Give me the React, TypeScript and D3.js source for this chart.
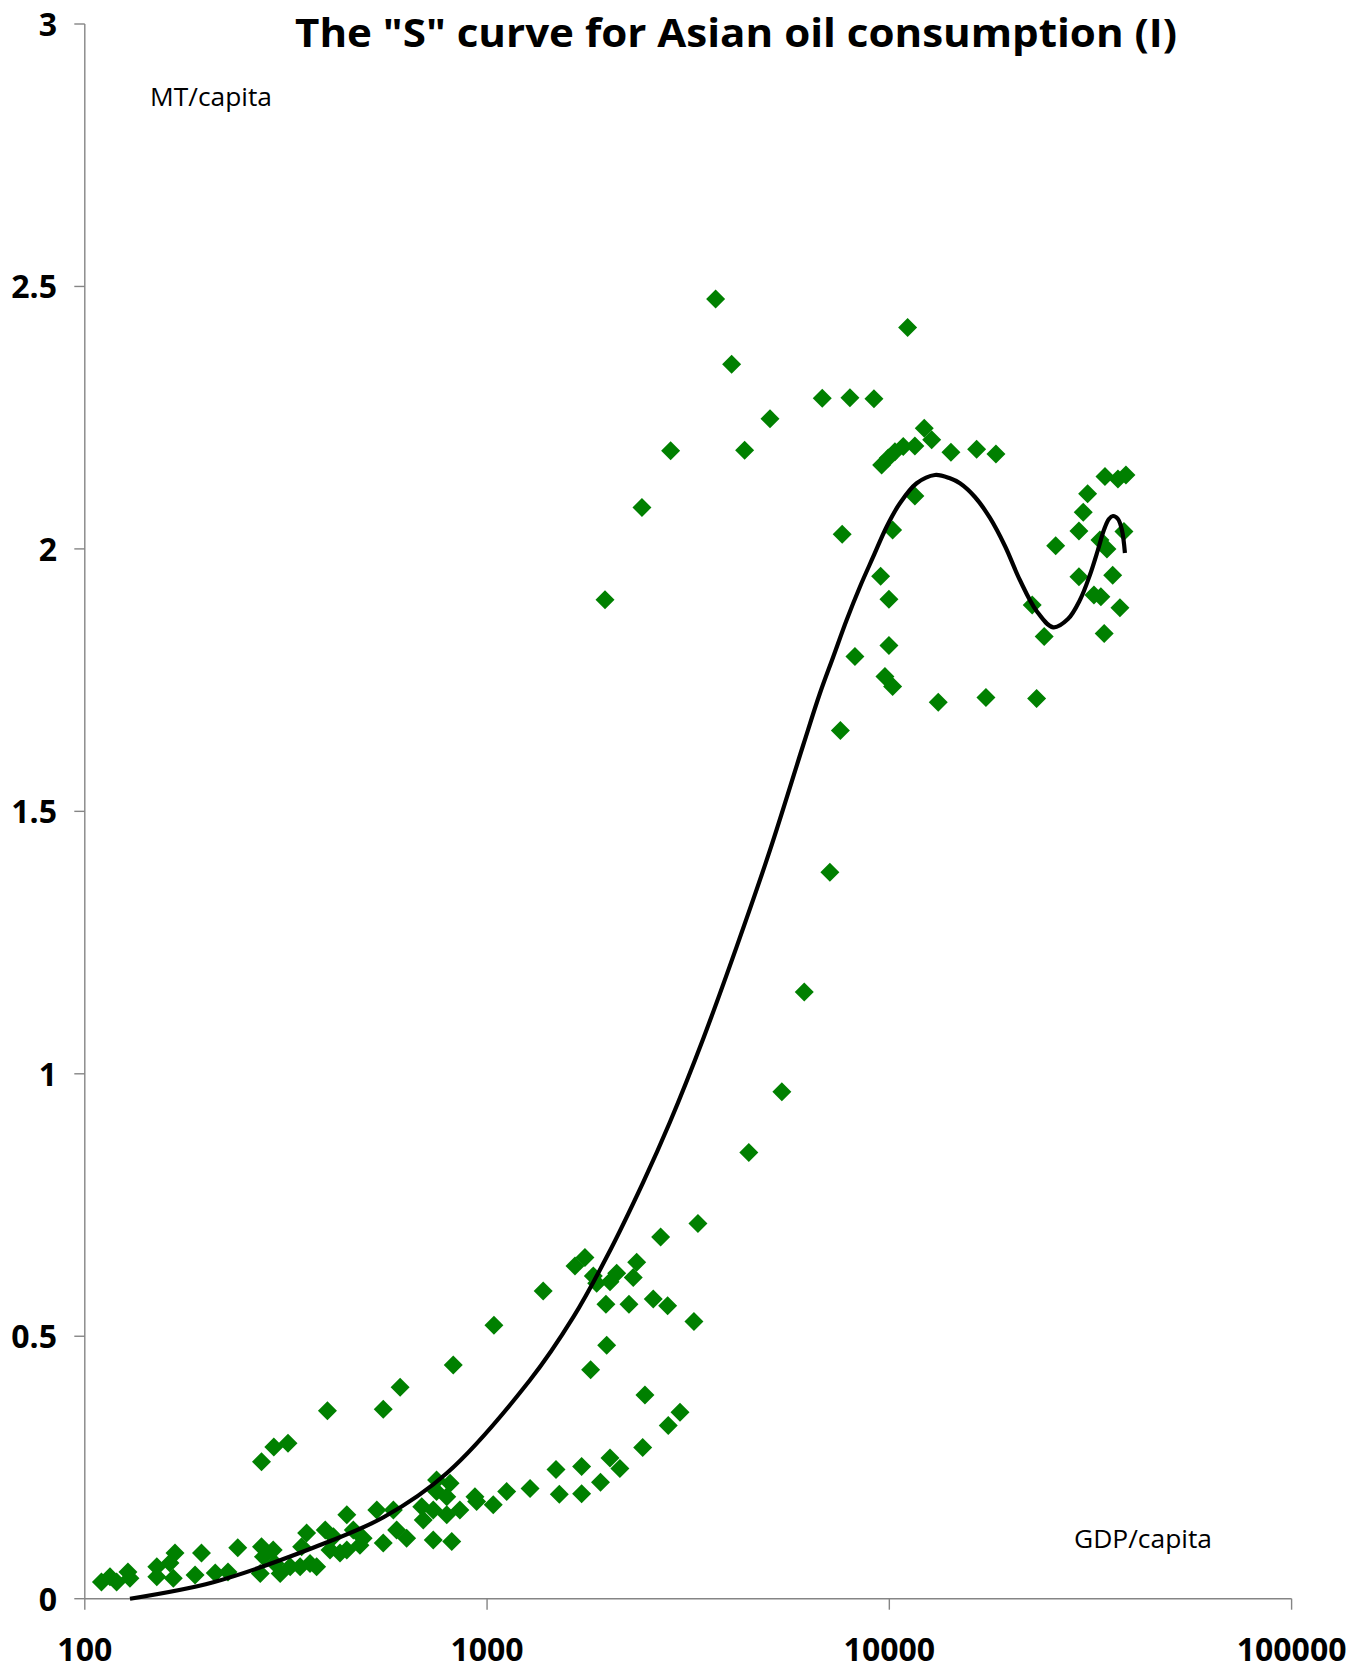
import React from "react";
import * as d3 from "d3";

// GDP per capita (USD) and oil consumption (MT per capita)
const gdpPerCapita = [
  110, 115.5, 120, 128, 129.5, 151, 151, 167.6, 162.8, 166, 195, 188, 211, 227, 240,
  275, 295, 320, 275, 278, 273, 294, 297, 306, 324, 343, 356, 346, 363, 377,
  396, 415, 407, 431, 448, 465, 448, 483, 492, 532, 552, 585, 596, 631, 694,
  688, 749, 809, 794, 735, 817, 735, 794, 856, 942, 1036,
  401, 552, 608, 824, 1040, 1379, 1654, 1751, 1837, 1873, 2100, 2021, 2355, 2309,
  1975, 2253, 2589, 2811, 2701, 3344, 3268, 1983, 1809, 2469, 3017, 2821, 2437,
  2021, 2139, 1718, 1484, 1914, 1718, 1512, 1279, 1119, 933, 749,
  3700, 4055, 6812, 7980, 9157, 5050, 2860, 4368, 2427, 7636, 1964,
  11105, 9570, 9938, 10325, 10830, 11576, 12213, 12742, 14228, 16482, 18408,
  11576, 10191, 9515, 9977, 9977, 8212, 9750, 10191, 13230, 17384, 23233,
  25913, 22657, 24266, 34360, 37010, 38740, 31110, 30340, 29600, 38300,
  33390, 34750, 35910, 29600, 32260, 33570, 37430, 34210,
  4474, 5405, 6145, 7115, 7556,
];

const oilPerCapita = [
  0.032, 0.042, 0.032, 0.051, 0.039, 0.061, 0.042, 0.087, 0.068, 0.039, 0.087, 0.045, 0.049, 0.051, 0.097,
  0.261, 0.289, 0.296, 0.099, 0.08, 0.048, 0.093, 0.067, 0.048, 0.061, 0.061, 0.125, 0.099, 0.067, 0.061,
  0.131, 0.118, 0.093, 0.087, 0.16, 0.131, 0.093, 0.102, 0.115, 0.169, 0.106, 0.169, 0.131, 0.115, 0.15,
  0.175, 0.226, 0.22, 0.194, 0.112, 0.109, 0.169, 0.16, 0.169, 0.185, 0.179,
  0.358, 0.361, 0.403, 0.445, 0.521, 0.586, 0.634, 0.65, 0.615, 0.601, 0.62, 0.604, 0.641, 0.612,
  0.561, 0.561, 0.571, 0.558, 0.689, 0.715, 0.528, 0.483, 0.436, 0.388, 0.355, 0.33, 0.288,
  0.268, 0.248, 0.252, 0.246, 0.222, 0.2, 0.199, 0.21, 0.204, 0.194, 0.204,
  2.476, 2.352, 2.287, 2.288, 2.286, 2.248, 2.187, 2.188, 2.079, 2.028, 1.903,
  2.422, 2.16, 2.173, 2.185, 2.195, 2.196, 2.23, 2.208, 2.184, 2.19, 2.181,
  2.101, 2.036, 1.948, 1.904, 1.816, 1.795, 1.757, 1.738, 1.708, 1.717, 1.715,
  2.006, 1.893, 1.833, 2.138, 2.133, 2.141, 2.105, 2.07, 2.034, 2.033,
  2.017, 2.0, 1.95, 1.947, 1.912, 1.909, 1.888, 1.839,
  0.85, 0.966, 1.156, 1.384, 1.654,
];

// fitted "S" trend curve
const trendGdp = [
  129.5, 208.7, 368.1, 554.3, 793.6, 1279, 1638, 1983, 2445, 2849, 3446, 4172, 5050,
  6109, 6722, 7255, 7832, 8453, 9120, 9847, 10624, 11692, 12985, 14147, 14981,
  16323, 17789, 19383, 21112, 23233, 25557,
  27797, 29775, 31521, 32998, 34150, 35150, 35960, 37010, 37860, 38520,
];
const trendOil = [
  0.0, 0.0314, 0.0966, 0.1556, 0.2389, 0.4166, 0.5363, 0.6508, 0.7937, 0.9082, 1.0669,
  1.2419, 1.426, 1.6264, 1.7249, 1.7946, 1.8646, 1.928, 1.9851, 2.0423, 2.0869, 2.125,
  2.1408, 2.1345, 2.125, 2.0989, 2.0589, 2.0055, 1.9407, 1.8817, 1.8506,
  1.8664, 1.9027, 1.9503, 1.9979, 2.036, 2.057, 2.0627, 2.057, 2.036, 1.9922,
];

const xTicks = [100, 1000, 10000, 100000];
const yTicks = [0, 0.5, 1, 1.5, 2, 2.5, 3];

const TITLE = 'The "S" curve for Asian oil consumption (I)';
const Y_LABEL = "MT/capita";
const X_LABEL = "GDP/capita";

const W = 1370;
const H = 1670;
const FONT = "'Open Sans', 'Noto Sans', 'DejaVu Sans', sans-serif";

export default function App() {
  const x = d3.scaleLog().domain([100, 100000]).range([84.8, 1291.6]);
  const y = d3.scaleLinear().domain([0, 3]).range([1598.7, 24]);

  const points = gdpPerCapita.map((g, i) => ({ g, o: oilPerCapita[i] }));
  const trend = trendGdp.map((g, i) => [g, trendOil[i]] as [number, number]);

  const line = d3
    .line<[number, number]>()
    .x((d) => x(d[0]))
    .y((d) => y(d[1]))
    .curve(d3.curveCatmullRom.alpha(0.5));

  const symbol = d3.symbol().type(d3.symbolDiamond2).size(230)();

  const axisColor = "#858585";
  const x0 = x(100);
  const y0 = y(0);

  return (
    <svg
      width={W}
      height={H}
      style={{ position: "absolute", left: 0, top: 0, background: "#fff" }}
      fontFamily={FONT}
    >
      <rect x={0} y={0} width={W} height={H} fill="#fff" />

      {/* y axis */}
      <line x1={x0} x2={x0} y1={y(3)} y2={y0} stroke={axisColor} strokeWidth={1.4} />
      {yTicks.map((t) => (
        <g key={"y" + t}>
          <line x1={x0 - 10.5} x2={x0} y1={y(t)} y2={y(t)} stroke={axisColor} strokeWidth={1.4} />
          <text
            x={57}
            y={y(t) + 12}
            textAnchor="end"
            fontSize={32}
            fontWeight="bold"
            fill="#000"
          >
            {String(t)}
          </text>
        </g>
      ))}

      {/* x axis */}
      <line x1={x0} x2={x(100000)} y1={y0} y2={y0} stroke={axisColor} strokeWidth={1.4} />
      {xTicks.map((t) => (
        <g key={"x" + t}>
          <line x1={x(t)} x2={x(t)} y1={y0} y2={y0 + 11} stroke={axisColor} strokeWidth={1.4} />
          <text
            x={x(t)}
            y={1660.7}
            textAnchor="middle"
            fontSize={32}
            fontWeight="bold"
            fill="#000"
          >
            {String(t)}
          </text>
        </g>
      ))}

      {/* points */}
      {points.map((p, i) => (
        <path
          key={"p" + i}
          d={symbol}
          transform={`translate(${x(p.g)},${y(p.o)})`}
          fill="#008000"
        />
      ))}

      {/* trend */}
      <path
        d={line(trend) || ""}
        fill="none"
        stroke="#000"
        strokeWidth={4.2}
        strokeLinejoin="round"
        strokeLinecap="butt"
      />

      {/* labels */}
      <text x={295} y={47} fontSize={40} fontWeight="bold" fill="#000" textLength={882} lengthAdjust="spacingAndGlyphs">
        {TITLE}
      </text>
      <text x={150} y={106} fontSize={26} fill="#000" textLength={122} lengthAdjust="spacingAndGlyphs">
        {Y_LABEL}
      </text>
      <text x={1074} y={1548} fontSize={26} fill="#000" textLength={138} lengthAdjust="spacingAndGlyphs">
        {X_LABEL}
      </text>
    </svg>
  );
}
